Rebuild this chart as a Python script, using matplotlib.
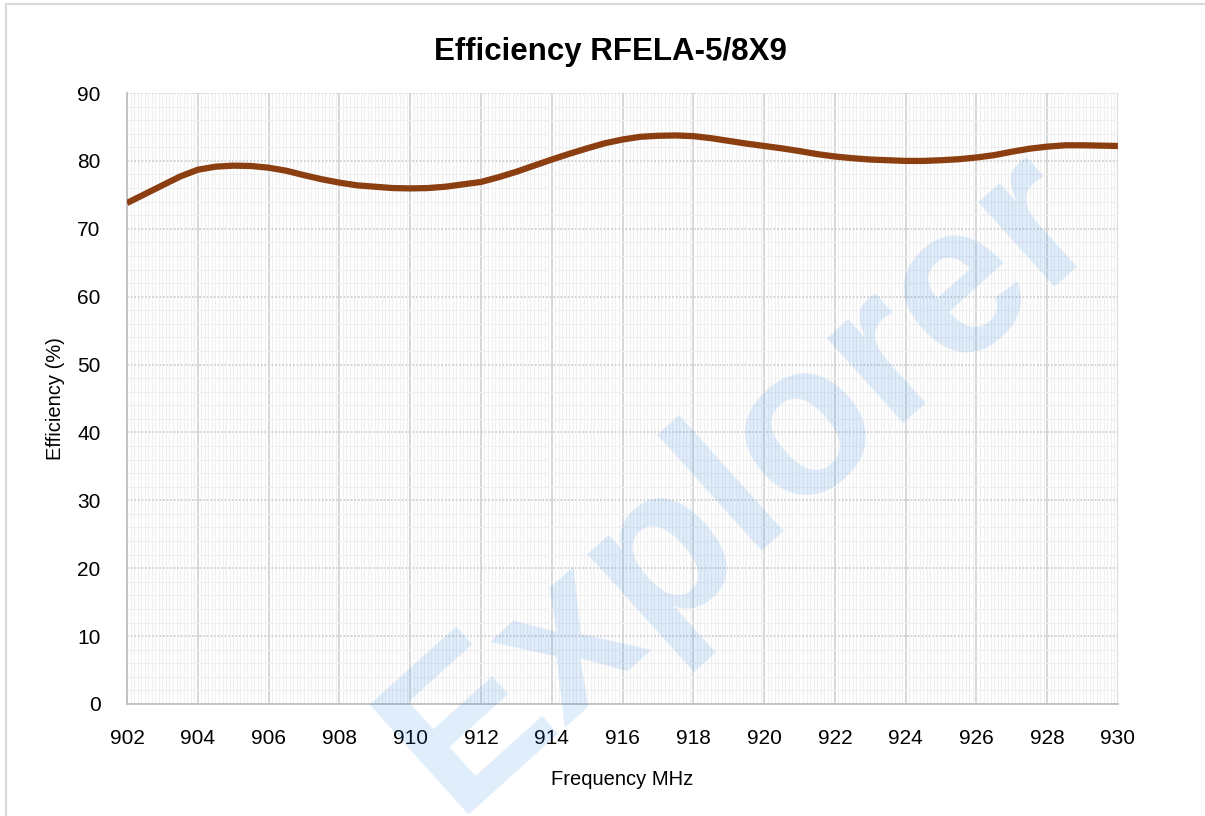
import matplotlib.pyplot as plt
from matplotlib.patches import Rectangle
from matplotlib.ticker import MultipleLocator

plt.rcParams['font.family'] = ['Liberation Sans', 'DejaVu Sans']

# Datos (cada 0.5 MHz)
frecuencia = [902, 902.5, 903, 903.5, 904, 904.5, 905, 905.5, 906, 906.5, 907, 907.5,
              908, 908.5, 909, 909.5, 910, 910.5, 911, 911.5, 912, 912.5, 913, 913.5,
              914, 914.5, 915, 915.5, 916, 916.5, 917, 917.5, 918, 918.5, 919, 919.5,
              920, 920.5, 921, 921.5, 922, 922.5, 923, 923.5, 924, 924.5, 925, 925.5,
              926, 926.5, 927, 927.5, 928, 928.5, 929, 929.5, 930]
eficiencia = [73.8, 75.1, 76.4, 77.7, 78.7, 79.15, 79.3, 79.25, 79.0, 78.55, 77.9, 77.3,
              76.8, 76.4, 76.2, 76.0, 75.95, 76.0, 76.2, 76.55, 76.9, 77.6, 78.4, 79.3,
              80.2, 81.05, 81.85, 82.6, 83.15, 83.55, 83.7, 83.75, 83.65, 83.35, 82.95, 82.55,
              82.2, 81.85, 81.45, 81.0, 80.65, 80.4, 80.2, 80.1, 80.0, 80.0, 80.1, 80.25,
              80.5, 80.85, 81.35, 81.8, 82.1, 82.3, 82.3, 82.25, 82.2]
ticks_x = list(range(902, 931, 2))
ticks_y = list(range(0, 91, 10))

fig = plt.figure(figsize=(12.05, 8.16), dpi=100)
ax = fig.add_axes([0.1054, 0.1373, 0.8224, 0.7487])

ax.plot(frecuencia, eficiencia, color='#8B3E0F', linewidth=4.5,
        solid_joinstyle='round', solid_capstyle='butt', zorder=3)

ax.set_xlim(902, 930)
ax.set_ylim(0, 90)
ax.set_xticks(ticks_x)
ax.set_yticks(ticks_y)
ax.xaxis.set_minor_locator(MultipleLocator(0.1))
ax.yaxis.set_minor_locator(MultipleLocator(2))

ax.grid(which='minor', color='#EFEFEF', linewidth=0.8)
ax.grid(which='major', axis='x', color='#D4D4D4', linewidth=1.3)
ax.grid(which='major', axis='y', color='#D0D0D0', linewidth=1.3, linestyle=(0, (1, 1)))
ax.set_axisbelow(True)

for s in ['top', 'right']:
    ax.spines[s].set_visible(False)
for s in ['left', 'bottom']:
    ax.spines[s].set_color('#BFBFBF')
    ax.spines[s].set_linewidth(1.3)
ax.tick_params(which='both', length=0, labelsize=15, colors='black')
ax.tick_params(axis='x', pad=18)
ax.tick_params(axis='y', pad=19)

fig.text(0.507, 0.936, 'Efficiency RFELA-5/8X9', fontsize=22.5, fontweight='bold',
         ha='center', va='center')
ax.set_xlabel('Frequency MHz', fontsize=14.5, labelpad=16)
ax.set_ylabel('Efficiency (%)', fontsize=14.5, labelpad=9)

# marca de agua
fig.text(0.616, 0.41, 'Explorer', fontsize=155, fontweight='bold', color='#2E86E8',
         alpha=0.15, rotation=42, ha='center', va='center', zorder=5)

# borde de la figura
fig.patches.append(Rectangle((0.005, -0.01), 1.0, 1.005, transform=fig.transFigure,
                             fill=False, edgecolor='#D9D9D9', linewidth=1.5))

plt.savefig('out.png', dpi=100)
